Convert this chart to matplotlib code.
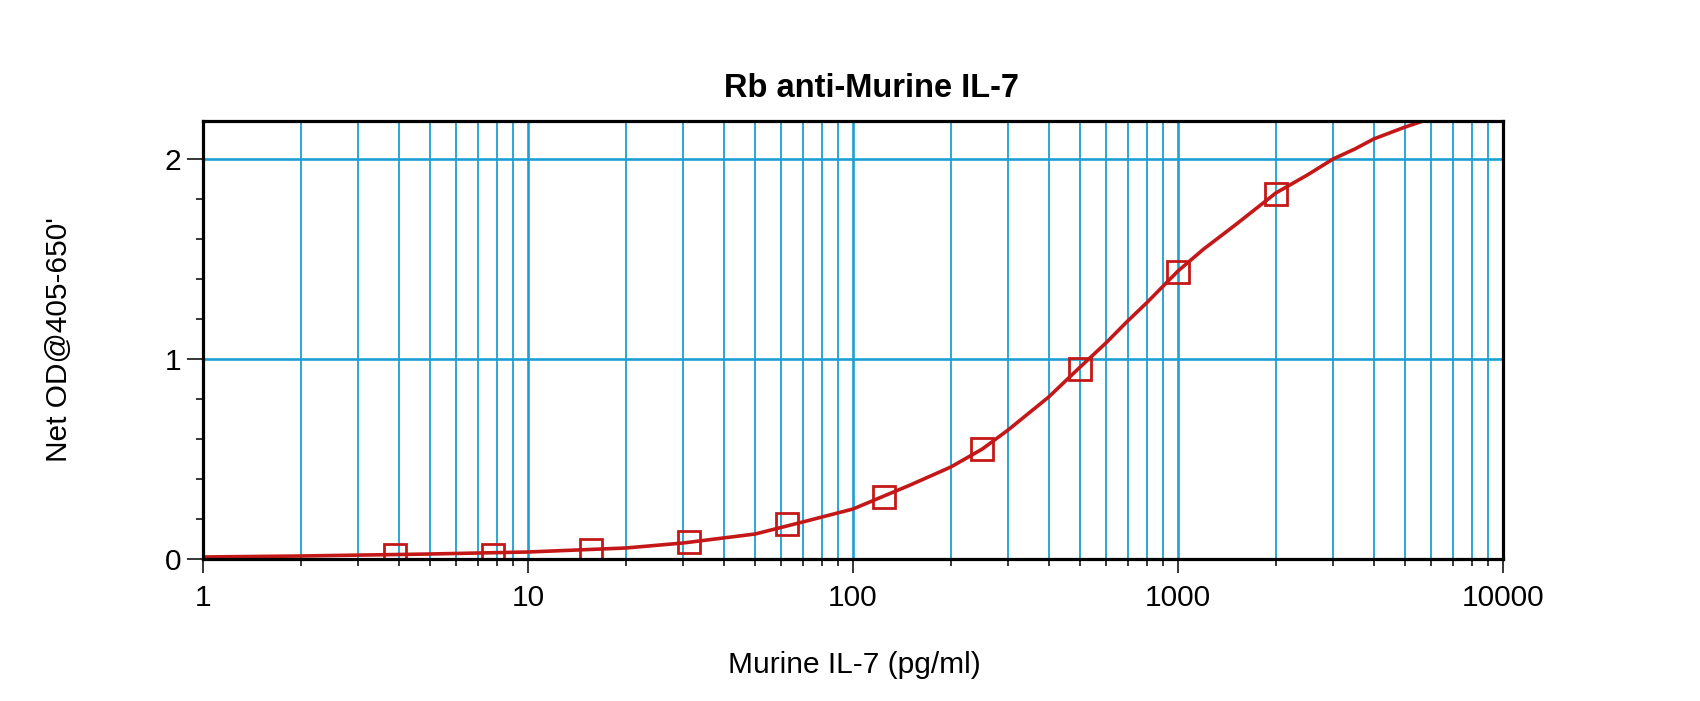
import matplotlib
matplotlib.use("Agg")
import matplotlib.pyplot as plt
from matplotlib.ticker import LogLocator, MultipleLocator, FixedLocator, NullFormatter

plt.rcParams['font.family'] = ['Liberation Sans', 'DejaVu Sans']

# standards (pg/ml) and measured net OD
conc = [3.9, 7.8, 15.6, 31.25, 62.5, 125, 250, 500, 1000, 2000]
od = [0.02, 0.02, 0.045, 0.087, 0.175, 0.31, 0.55, 0.95, 1.435, 1.825]

# fitted curve
fit_x = [1, 2, 5, 10, 20, 30, 50, 70, 100, 150, 200, 250, 300, 400, 500,
         600, 700, 800, 1000, 1200, 1500, 2000, 2500, 3000, 3500, 4000,
         5000, 5675]
fit_y = [0.01, 0.015, 0.025, 0.035, 0.055, 0.08, 0.125, 0.185, 0.25, 0.37,
         0.46, 0.55, 0.645, 0.81, 0.96, 1.08, 1.19, 1.28, 1.44, 1.55, 1.67,
         1.83, 1.92, 2.00, 2.05, 2.10, 2.16, 2.19]

xticks = [1, 10, 100, 1000, 10000]
xlabels = ['1', '10', '100', '1000', '10000']
yticks = [0, 1, 2]

red = '#c41818'
blue = '#1d9fd3'

fig = plt.figure(figsize=(17, 7.01), dpi=100)
ax = fig.add_axes([203/1700, 1 - 559/701, 1300/1700, 438/701])

ax.plot(fit_x, fit_y, color=red, lw=2.6, zorder=3)
ax.plot(conc, od, ls='none', marker='s', ms=16, mfc='none', mec=red, mew=2, zorder=4)

ax.set_xscale('log')
ax.set_xlim(1, 10000)
ax.set_ylim(0, 2.19)

ax.xaxis.set_major_locator(FixedLocator(xticks))
ax.set_xticklabels(xlabels)
ax.xaxis.set_minor_locator(LogLocator(base=10, subs=range(2, 10)))
ax.xaxis.set_minor_formatter(NullFormatter())
ax.yaxis.set_major_locator(FixedLocator(yticks))
ax.yaxis.set_minor_locator(MultipleLocator(0.2))

ax.grid(True, which='major', axis='x', color=blue, lw=1.9)
ax.grid(True, which='minor', axis='x', color=blue, lw=1.3)
ax.grid(True, which='major', axis='y', color=blue, lw=1.9)
ax.set_axisbelow(True)

for s in ax.spines.values():
    s.set_linewidth(2.3)
    s.set_zorder(5)

ax.tick_params(axis='x', which='major', length=10, width=1.1, pad=8, labelsize=21.5, direction='out')
ax.tick_params(axis='x', which='minor', length=5, width=1.1, direction='out')
ax.tick_params(axis='y', which='major', length=11.5, width=1.1, pad=4, labelsize=21.5, direction='out')
ax.tick_params(axis='y', which='minor', length=5, width=1.1, direction='out')

fig.text(871/1700, 1 - 97/701, 'Rb anti-Murine IL-7', ha='center', va='baseline',
         fontsize=23.5, fontweight='bold')
fig.text(854/1700, 1 - 673/701, 'Murine IL-7 (pg/ml)', ha='center', va='baseline',
         fontsize=21.5)
fig.text(59/1700, 1 - 340/701, "Net OD@405-650'", ha='center', va='center',
         rotation=90, fontsize=21.5)

fig.savefig('out.png', dpi=100)
